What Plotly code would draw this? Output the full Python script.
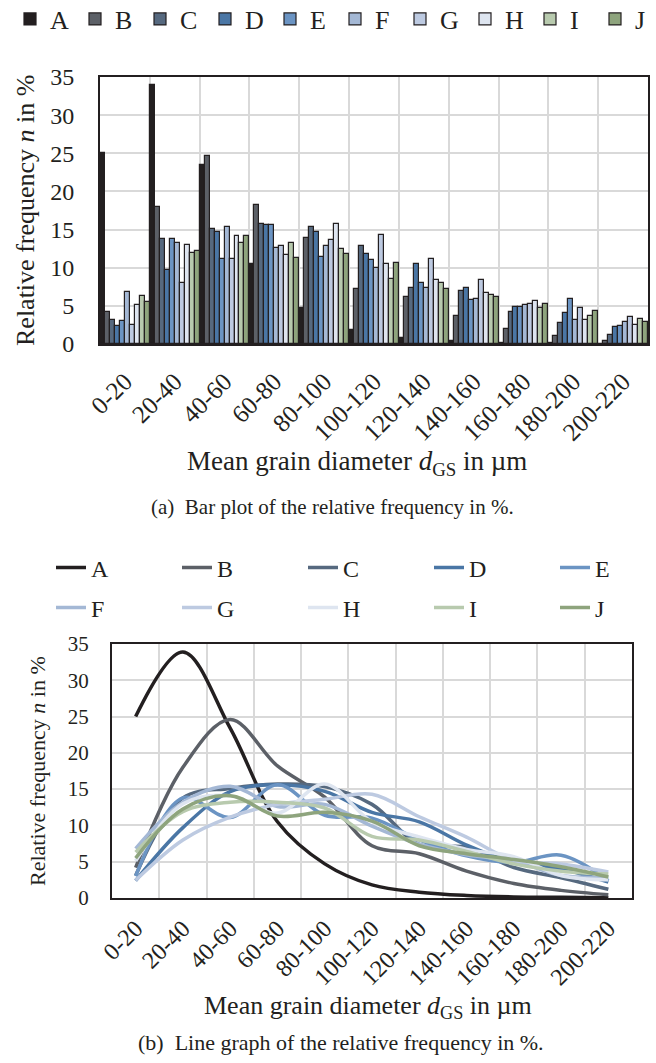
import plotly.graph_objects as go

categories = ["0-20", "20-40", "40-60", "60-80", "80-100", "100-120",
              "120-140", "140-160", "160-180", "180-200", "200-220"]
series_names = ["A", "B", "C", "D", "E", "F", "G", "H", "I", "J"]

A = [25.0, 33.9, 23.4, 10.5, 4.7, 1.8, 0.8, 0.35, 0.15, 0.1, 0.05]
B = [4.2, 18.0, 24.6, 18.2, 13.9, 7.2, 6.1, 3.7, 2.0, 1.05, 0.45]
C = [3.1, 13.8, 15.1, 15.7, 15.35, 12.9, 7.4, 7.0, 4.2, 2.8, 1.2]
D = [2.4, 9.7, 14.65, 15.6, 14.7, 11.8, 10.5, 7.3, 4.9, 4.0, 2.2]
E = [3.0, 13.8, 11.1, 15.6, 11.4, 11.0, 8.0, 5.8, 4.9, 5.9, 2.4]
F = [6.8, 13.2, 15.4, 12.6, 12.9, 9.9, 7.4, 5.95, 5.1, 3.1, 2.85]
G = [2.45, 8.0, 11.15, 12.9, 13.6, 14.3, 11.2, 8.4, 5.2, 4.7, 3.6]
H = [5.1, 13.0, 14.1, 11.7, 15.7, 10.5, 8.4, 6.7, 5.7, 3.1, 2.5]
I = [6.3, 11.9, 13.2, 13.2, 12.4, 8.5, 8.0, 6.4, 4.7, 3.7, 3.3]
J = [5.5, 12.25, 14.1, 11.3, 11.8, 10.6, 7.2, 6.1, 5.3, 4.3, 2.9]

values = [A, B, C, D, E, F, G, H, I, J]
colors = ["#231f20", "#5c6067", "#56697f", "#4a76a5", "#6b94c3",
          "#a4b8d5", "#bdcae1", "#dee5f0", "#b8caae", "#8ea47d"]

W, Hh = 656, 1063
FONT = "Liberation Serif, Times New Roman, serif"
TXT = "#231f20"
XRANGE = [-0.5, len(categories) - 0.5]


def px_x(p):
    return p / W


def px_y(p):
    return 1 - p / Hh


fig = go.Figure()

for name, vals, col in zip(series_names, values, colors):
    fig.add_trace(go.Bar(
        x=categories, y=vals, name=name,
        marker=dict(color=col, line=dict(color="#231f20", width=1.2)),
        xaxis="x", yaxis="y", legend="legend",
    ))

for k, (name, vals, col) in enumerate(zip(series_names, values, colors)):
    fig.add_trace(go.Scatter(
        x=categories, y=vals, name=name, mode="lines",
        line=dict(color=col, width=3.5, shape="spline", smoothing=1.0),
        xaxis="x2", yaxis="y2",
        legend="legend2" if k < 5 else "legend3",
    ))

grid = "#d9d9d9"
axis_common = dict(
    showgrid=True, gridcolor=grid, gridwidth=1.5,
    showline=True, linecolor="#231f20", linewidth=2, mirror=True,
    ticks="", zeroline=False, automargin=False,
)

fig.update_layout(
    width=W, height=Hh,
    margin=dict(l=0, r=0, t=0, b=0, autoexpand=False),
    paper_bgcolor="white", plot_bgcolor="white",
    font=dict(family=FONT, color=TXT),
    barmode="group", bargap=0, bargroupgap=0,
    xaxis=dict(domain=[px_x(100), px_x(648)], anchor="y", type="category",
               range=XRANGE, tickson="boundaries", tickangle=-45, ticklabelstandoff=11,
               tickfont=dict(size=25, family=FONT, color=TXT), **axis_common),
    yaxis=dict(domain=[px_y(344), px_y(77)], anchor="x", range=[0, 35], dtick=5,
               tickfont=dict(size=24, family=FONT, color=TXT),
               ticklabelstandoff=19, **axis_common),
    xaxis2=dict(domain=[px_x(112), px_x(632)], anchor="y2", type="category",
                range=XRANGE, tickson="boundaries", tickangle=-45, ticklabelstandoff=5,
                tickfont=dict(size=24, family=FONT, color=TXT), **axis_common),
    yaxis2=dict(domain=[px_y(898), px_y(644)], anchor="x2", range=[0, 35], dtick=5,
                tickfont=dict(size=21, family=FONT, color=TXT),
                ticklabelstandoff=17, **axis_common),
    legend=dict(orientation="h", x=px_x(10), xanchor="left", y=px_y(19), yanchor="middle",
                entrywidth=20, itemwidth=30, bgcolor="rgba(0,0,0,0)",
                font=dict(size=26, family=FONT, color=TXT), traceorder="normal"),
    legend2=dict(orientation="h", x=px_x(51), xanchor="left", y=px_y(568), yanchor="middle",
                 entrywidth=81, itemwidth=30, bgcolor="rgba(0,0,0,0)",
                 font=dict(size=24, family=FONT, color=TXT), traceorder="normal"),
    legend3=dict(orientation="h", x=px_x(51), xanchor="left", y=px_y(608), yanchor="middle",
                 entrywidth=81, itemwidth=30, bgcolor="rgba(0,0,0,0)",
                 font=dict(size=24, family=FONT, color=TXT), traceorder="normal"),
)

annotations = [
    dict(text="Relative frequency <i>n</i> in %", x=px_x(26), y=px_y(211),
         textangle=-90, font=dict(size=26)),
    dict(text="Mean grain diameter <i>d</i><sub>GS</sub> in µm", x=px_x(357), y=px_y(463),
         font=dict(size=27)),
    dict(text="(a)\u00a0\u00a0Bar plot of the relative frequency in %.", x=px_x(332), y=px_y(507),
         font=dict(size=21)),
    dict(text="Relative frequency <i>n</i> in %", x=px_x(37), y=px_y(771),
         textangle=-90, font=dict(size=22)),
    dict(text="Mean grain diameter <i>d</i><sub>GS</sub> in µm", x=px_x(368), y=px_y(1007),
         font=dict(size=26)),
    dict(text="(b)\u00a0\u00a0Line graph of the relative frequency in %.", x=px_x(341), y=px_y(1042),
         font=dict(size=22)),
]
for a in annotations:
    a.update(xref="paper", yref="paper", showarrow=False, xanchor="center", yanchor="middle")
    a["font"].update(family=FONT, color=TXT)
fig.update_layout(annotations=annotations)

fig.write_html("out.html")
